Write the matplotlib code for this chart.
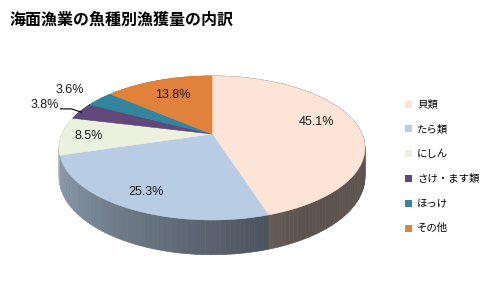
import numpy as np
import matplotlib

matplotlib.use("Agg")
import matplotlib.pyplot as plt
from matplotlib.collections import PolyCollection
from matplotlib.patches import Polygon, Rectangle

title = "海面漁業の魚種別漁獲量の内訳"
categories = ["貝類", "たら類", "にしん", "さけ・ます類", "ほっけ", "その他"]
shares = [45.1, 25.3, 8.5, 3.8, 3.6, 13.8]
colors = ["#fce4d6", "#b8cce4", "#ebf1de", "#60497a", "#31859c", "#e0823c"]
label_rho = [0.72, 0.81, 0.82, 1.30, 1.30, 0.70]   # radial position of each % label

JP = ["Noto Sans CJK JP", "DejaVu Sans"]

# pseudo-3D pie geometry (pixels): centre, radii, perspective, thickness
CX, CY, R, RY, K, H = 212, 134, 150, 69.3, 0.194, 28


def proj(theta, rho=1.0, z=0.0):
    """theta in deg clockwise from 12 o'clock -> screen x, y (y down)."""
    t = np.deg2rad(theta)
    u, v = rho * np.sin(t), rho * np.cos(t)
    f = 1.0 / (1.0 + K * v)
    return CX + R * u * f, CY - (RY * v + z) * f


def side_shade(theta):
    return np.clip(0.42 + (theta - 165) * 0.0039, 0.365, 0.8)


fig = plt.figure(figsize=(4.97, 2.98), dpi=100)
ax = fig.add_axes([0, 0, 1, 1])
ax.set_xlim(0, 497)
ax.set_ylim(298, 0)
ax.axis("off")

frac = np.array(shares) / np.sum(shares)
bounds = np.concatenate([[0], np.cumsum(frac) * 360])

# side wall: small quads, back first
quads, qcol, depth = [], [], []
for i, c in enumerate(colors):
    base = np.array(matplotlib.colors.to_rgb(c))
    n = max(int((bounds[i + 1] - bounds[i]) / 1.5), 2)
    th = np.linspace(bounds[i], bounds[i + 1], n + 1)
    for a, b in zip(th[:-1], th[1:]):
        xa, ya = proj(a)
        xb, yb = proj(b)
        xa2, ya2 = proj(a, z=-H)
        xb2, yb2 = proj(b, z=-H)
        quads.append([(xa, ya), (xb, yb), (xb2, yb2), (xa2, ya2)])
        qcol.append(np.clip(base * side_shade(0.5 * (a + b)), 0, 1))
        depth.append(np.cos(np.deg2rad(0.5 * (a + b))))
order = np.argsort(depth)[::-1]
ax.add_collection(PolyCollection([quads[j] for j in order],
                                 facecolors=[qcol[j] for j in order],
                                 edgecolors=[qcol[j] for j in order], linewidths=0.5))

# top surface
for i, c in enumerate(colors):
    th = np.linspace(bounds[i], bounds[i + 1], 80)
    xs, ys = proj(th)
    pts = [(CX, CY)] + list(zip(xs, ys))
    ax.add_patch(Polygon(pts, closed=True, facecolor=c, edgecolor=c, lw=0.4))

# percentage labels
for i, s in enumerate(shares):
    mid = 0.5 * (bounds[i] + bounds[i + 1])
    x, y = proj(mid, rho=label_rho[i])
    if i == 0:
        y -= 4
    ax.text(x, y, f"{s:.1f}%", ha="center", va="center", fontsize=9,
            family="Liberation Sans", color="#1a1a1a")
    if i == 3:
        xr, yr = proj(mid)
        ax.plot([x + 16, x + 27, xr + 1], [y + 4, y + 4, yr + 1], color="black", lw=0.8)

# legend
for i, (name, c) in enumerate(zip(categories, colors)):
    y = 104 + i * 24.8
    ax.add_patch(Rectangle((405, y - 3.5), 7, 7, facecolor=c, edgecolor="none"))
    ax.text(417, y, name, ha="left", va="center", fontsize=7.5, family=JP)

ax.text(10, 20, title, ha="left", va="center", fontsize=11.5, fontweight="bold", family=JP)

fig.savefig("out.png", dpi=100)
